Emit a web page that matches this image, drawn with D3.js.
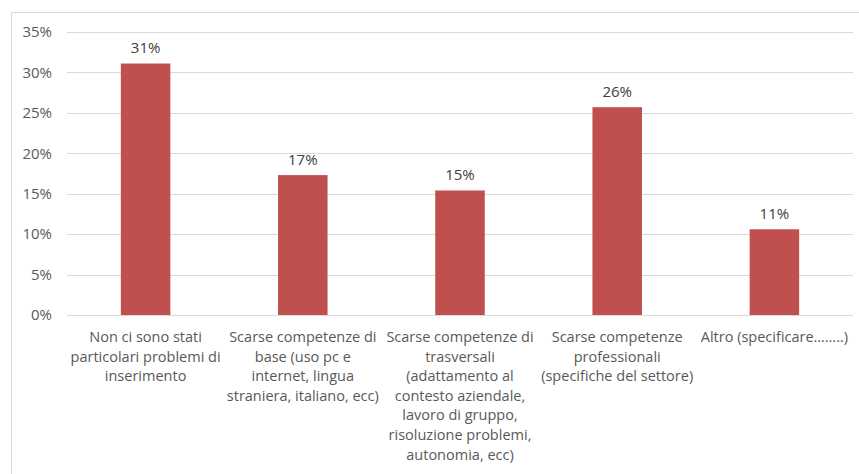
<!DOCTYPE html>
<html>
<head>
<meta charset="utf-8">
<script src="https://cdn.jsdelivr.net/npm/d3@7"></script>
<style>
  html, body { margin: 0; padding: 0; background: #fff; }
  svg { display: block; font-family: "Open Sans", "Liberation Sans", sans-serif; }
</style>
</head>
<body>
<svg id="chart" width="859" height="474"></svg>
<script>
// Category labels, pre-wrapped into lines
const categories = [
  ["Non ci sono stati", "particolari problemi di", "inserimento"],
  ["Scarse competenze di", "base (uso pc e", "internet, lingua", "straniera, italiano, ecc)"],
  ["Scarse competenze di", "trasversali", "(adattamento al", "contesto aziendale,", "lavoro di gruppo,", "risoluzione problemi,", "autonomia, ecc)"],
  ["Scarse competenze", "professionali", "(specifiche del settore)"],
  ["Altro (specificare……..)"]
];
// Share of responses per category
const values = [0.311, 0.173, 0.154, 0.257, 0.106];
const yTicks = [0, 0.05, 0.10, 0.15, 0.20, 0.25, 0.30, 0.35];

const svg = d3.select("#chart");
const margin = { left: 67, right: 6, top: 32, bottom: 159 };
const W = 859, H = 474;

// Outer chart frame (top and left edges visible)
svg.append("path")
  .attr("d", `M11.5,${H} V12.5 H${W}`)
  .attr("fill", "none").attr("stroke", "#d9d9d9").attr("stroke-width", 1);

const x = d3.scaleBand()
  .domain(d3.range(categories.length))
  .range([margin.left, W - margin.right])
  .paddingInner(0.685).paddingOuter(0.3425);

const y = d3.scaleLinear().domain([0, 0.35]).range([H - margin.bottom, margin.top]);

// Horizontal gridlines
svg.append("g").selectAll("line").data(yTicks).join("line")
  .attr("x1", margin.left).attr("x2", W - margin.right)
  .attr("y1", d => Math.round(y(d)) + 0.5).attr("y2", d => Math.round(y(d)) + 0.5)
  .attr("stroke", "#d9d9d9").attr("stroke-width", 1);

// Y axis labels
const yAxis = d3.axisLeft(y).tickValues(yTicks).tickFormat(d3.format(".0%")).tickSize(0).tickPadding(15);
const gy = svg.append("g").attr("transform", `translate(${margin.left},0)`).call(yAxis);
gy.select(".domain").remove();
gy.selectAll("text").attr("fill", "#595959").style("font-size", "15px")
  .style("font-family", "\"Open Sans\", \"Liberation Sans\", sans-serif");

// Bars
svg.append("g").selectAll("rect").data(values).join("rect")
  .attr("x", (d, i) => x(i))
  .attr("width", x.bandwidth())
  .attr("y", d => y(d))
  .attr("height", d => y(0) - y(d))
  .attr("fill", "#c0504d");

// Value labels
svg.append("g").selectAll("text").data(values).join("text")
  .attr("x", (d, i) => x(i) + x.bandwidth() / 2)
  .attr("y", d => y(d) - 10.5)
  .attr("text-anchor", "middle")
  .attr("fill", "#404040")
  .style("font-size", "15px")
  .text(d => d3.format(".0%")(d));

// Category labels
const lineH = 19.6;
const cat = svg.append("g").selectAll("text").data(categories).join("text")
  .attr("x", (d, i) => x(i) + x.bandwidth() / 2)
  .attr("y", y(0) + 27)
  .attr("text-anchor", "middle")
  .attr("fill", "#595959")
  .style("font-size", "14.5px");
cat.each(function(lines, i) {
  d3.select(this).selectAll("tspan").data(lines).join("tspan")
    .attr("x", x(i) + x.bandwidth() / 2)
    .attr("dy", (l, j) => j === 0 ? 0 : lineH)
    .text(l => l);
});
</script>
</body>
</html>
